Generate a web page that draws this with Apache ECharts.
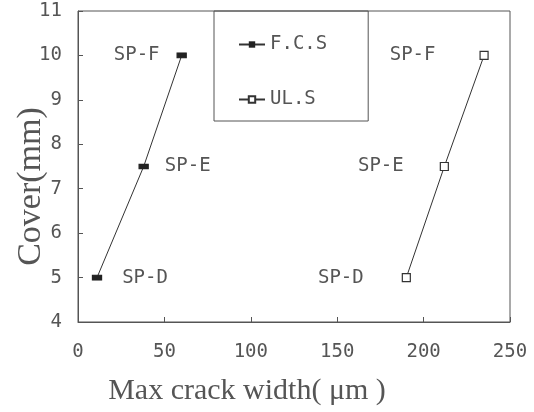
<!DOCTYPE html>
<html>
<head>
<meta charset="utf-8">
<script src="https://cdn.jsdelivr.net/npm/echarts@6/dist/echarts.min.js"></script>
<style>html,body{margin:0;padding:0;background:#fff;}#c{width:534px;height:412px;}</style>
</head>
<body>
<div id="c"></div>
<script>
var pointNames = ['SP-D', 'SP-E', 'SP-F'];
var coverValues = [5, 7.5, 10];
var fcsWidths = [11, 38, 60];
var ulsWidths = [190, 212, 235];
var xTicks = [0, 50, 100, 150, 200, 250];
var yTicks = [4, 5, 6, 7, 8, 9, 10, 11];

var monoFont = '"DejaVu Sans Mono", monospace';
var serifFont = '"Liberation Serif", "DejaVu Serif", serif';
var ink = '#333';
var textInk = '#555';

var fcsLabelPos = ['right', 'right', 'left'];
var fcsLabelDist = [20, 16, 17];
var ulsLabelPos = ['left', 'left', 'left'];
var ulsLabelDist = [38, 36, 44];

function buildData(xs, pos, dist) {
  return xs.map(function (x, i) {
    return {
      value: [x, coverValues[i]],
      name: pointNames[i],
      label: { position: pos[i], distance: dist[i] }
    };
  });
}

var labelStyle = {
  show: true,
  formatter: '{b}',
  fontFamily: monoFont,
  fontSize: 19,
  color: textInk
};

var chart = echarts.init(document.getElementById('c'));
chart.setOption({
  animation: false,
  backgroundColor: '#fff',
  grid: {
    left: 78, right: 24, top: 11, bottom: 90,
    outerBoundsMode: 'none',
    containLabel: false,
    show: true, borderColor: '#555', borderWidth: 1
  },
  legend: {
    orient: 'vertical',
    left: 214, top: 11,
    padding: [24, 41, 12, 24],
    itemGap: 36,
    itemWidth: 26, itemHeight: 8,
    borderColor: '#555', borderWidth: 1,
    textStyle: { fontFamily: monoFont, fontSize: 19, color: textInk },
    data: ['F.C.S', 'UL.S']
  },
  xAxis: {
    type: 'value',
    min: xTicks[0], max: xTicks[xTicks.length - 1], interval: 50,
    name: 'Max crack width( \u03bcm )',
    nameLocation: 'middle', nameGap: 54,
    nameMoveOverlap: false,
    nameTextStyle: { fontFamily: serifFont, fontSize: 30, color: textInk, padding: [0, 94, 0, 0] },
    axisLine: { lineStyle: { color: '#555' } },
    axisTick: { inside: true, length: 5, lineStyle: { color: '#555' } },
    axisLabel: { fontFamily: monoFont, fontSize: 19, color: textInk, margin: 21 },
    splitLine: { show: false }
  },
  yAxis: {
    type: 'value',
    min: yTicks[0], max: yTicks[yTicks.length - 1], interval: 1,
    name: 'Cover(mm)',
    nameLocation: 'middle', nameGap: 30,
    nameMoveOverlap: false,
    nameTextStyle: { fontFamily: serifFont, fontSize: 34, color: textInk, padding: [0, 40, 0, 0] },
    axisLine: { lineStyle: { color: '#555' } },
    axisTick: { inside: true, length: 5, lineStyle: { color: '#555' } },
    axisLabel: { fontFamily: monoFont, fontSize: 19, color: textInk, margin: 16 },
    splitLine: { show: false }
  },
  series: [
    {
      name: 'F.C.S',
      type: 'line',
      symbol: 'rect',
      symbolSize: [9, 5],
      lineStyle: { color: ink, width: 1 },
      itemStyle: { color: '#222', borderColor: '#222' },
      label: labelStyle,
      data: buildData(fcsWidths, fcsLabelPos, fcsLabelDist)
    },
    {
      name: 'UL.S',
      type: 'line',
      symbol: 'rect',
      symbolSize: 8,
      lineStyle: { color: ink, width: 1 },
      itemStyle: { color: '#fff', borderColor: '#333', borderWidth: 1.2 },
      label: labelStyle,
      data: buildData(ulsWidths, ulsLabelPos, ulsLabelDist)
    }
  ]
});
</script>
</body>
</html>
